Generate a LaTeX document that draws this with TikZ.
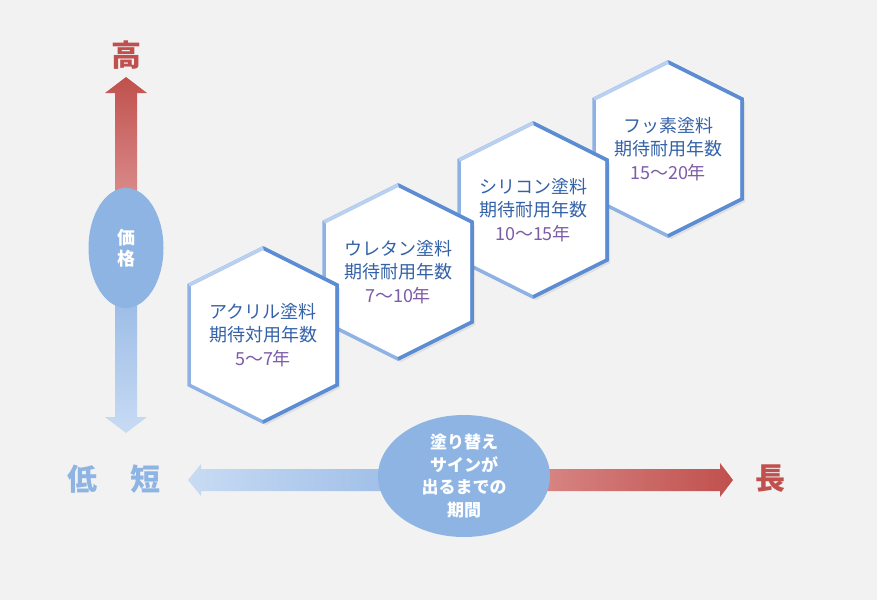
\documentclass[tikz,border=0pt]{standalone}
\usepackage{fontspec}
\setmainfont{Noto Sans CJK JP}
\usetikzlibrary{calc,shapes.geometric}
\definecolor{bgc}{HTML}{F2F2F2}
\definecolor{redd}{HTML}{C0504D}
\definecolor{redl}{HTML}{D98A89}
\definecolor{bluel}{HTML}{C8DBF3}
\definecolor{bluem}{HTML}{9DBDE7}
\definecolor{blobc}{HTML}{8DB4E2}
\definecolor{hexmid}{HTML}{8FB2E5}
\definecolor{hexdeep}{HTML}{5B8CD4}
\definecolor{hexlite}{HTML}{B9D0F0}
\definecolor{hexblue}{HTML}{3462A8}
\definecolor{numc}{HTML}{7D5CA8}

\begin{document}
\begin{tikzpicture}[x=1pt,y=-1pt,
  hexline/.style={draw=hexmid,line width=3.5pt,line join=miter,fill=white},
  hexdark/.style={draw=hexdeep,line width=3.5pt,line join=miter},
  hexpale/.style={draw=hexlite,line width=3.5pt},
  hextext/.style={font=\fontsize{18}{23.5}\selectfont,text=hexblue,align=center,inner sep=0pt},
  blob/.style={ellipse,fill=blobc,inner sep=0pt,text=white,align=center},
  endlab/.style={font=\fontsize{30}{30}\selectfont\bfseries,inner sep=0pt}]
\fill[bgc] (0,0) rectangle (877,600);
\useasboundingbox (0,0) rectangle (877,600);

% paint hexagons, back to front
\foreach \n/\cx/\cy/\kind/\mid/\yrs in {4/668/149/フッ素塗料/耐/15～20年,
    3/533/210/シリコン塗料/耐/10～15年,
    2/398/272/ウレタン塗料/耐/7～10年,
    1/263/335/アクリル塗料/対/5～7年}{
  \fill[black,opacity=0.08] (\cx+3,\cy+3) +(0,-87) -- +(74,-50) -- +(74,50) -- +(0,87) -- +(-74,50) -- +(-74,-50) -- cycle;
  \draw[hexline] (\cx,\cy) +(0,-87) -- +(74,-50) -- +(74,50) -- +(0,87) -- +(-74,50) -- +(-74,-50) -- cycle;
  \draw[hexdark] (\cx,\cy) +(0,-87) -- +(74,-50) -- +(74,50) -- +(0,87);
  \draw[hexpale] (\cx,\cy) +(-74,-50) -- +(0,-87);
  \node[hextext] (paint\n) at (\cx,\cy) {\kind\\期待\mid 用年数\\\textcolor{numc}{\yrs}};
}

% price axis
\coordinate (pc) at (126,248);
\coordinate (hightip) at (126,77);
\coordinate (lowtip) at (126,433);
\shade[top color=redd,bottom color=redl] ($(pc)+(-11,-55)$) -- ($(hightip)+(-11,16)$) -- ($(hightip)+(-21,16)$) -- (hightip)
  -- ($(hightip)+(21,16)$) -- ($(hightip)+(11,16)$) -- ($(pc)+(11,-55)$) -- cycle;
\shade[top color=bluem,bottom color=bluel] ($(pc)+(-11,55)$) -- ($(lowtip)+(-11,-16)$) -- ($(lowtip)+(-21,-16)$) -- (lowtip)
  -- ($(lowtip)+(21,-16)$) -- ($(lowtip)+(11,-16)$) -- ($(pc)+(11,55)$) -- cycle;
\node[blob,minimum width=75pt,minimum height=120pt,font=\fontsize{18}{21}\selectfont\bfseries] (price) at (pc) {価\\格};
\node[endlab,text=redd] (high) at (126,55) {高};

% period axis
\coordinate (qc) at (464,480);
\coordinate (shorttip) at (188,480);
\coordinate (longtip) at (733,480);
\shade[left color=bluel,right color=bluem] ($(qc)+(-60,-11)$) -- ($(shorttip)+(13,-11)$) -- ($(shorttip)+(13,-16)$) -- (shorttip)
  -- ($(shorttip)+(13,16)$) -- ($(shorttip)+(13,11)$) -- ($(qc)+(-60,11)$) -- cycle;
\shade[left color=redl,right color=redd] ($(qc)+(60,-11)$) -- ($(longtip)+(-13,-11)$) -- ($(longtip)+(-13,-17)$) -- (longtip)
  -- ($(longtip)+(-13,17)$) -- ($(longtip)+(-13,11)$) -- ($(qc)+(60,11)$) -- cycle;
\node[blob,minimum width=172pt,minimum height=122pt,font=\fontsize{17}{22.7}\selectfont\bfseries] (period) at (464,476)
  {塗り替え\\サインが\\出るまでの\\期間};
\node[endlab,text=blobc] (low) at (82,479) {低};
\node[endlab,text=blobc] (short) at (145,479) {短};
\node[endlab,text=redd] (long) at (770,479) {長};
\end{tikzpicture}
\end{document}
